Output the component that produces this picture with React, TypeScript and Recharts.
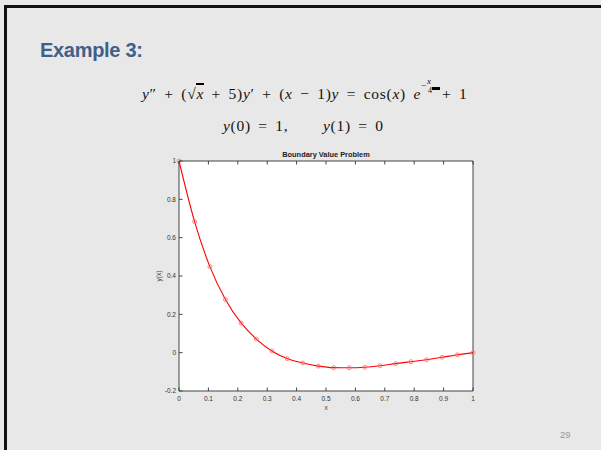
import { LineChart, Line, XAxis, YAxis, CartesianGrid } from 'recharts'

// ── data ────────────────────────────────────────────────────────────────────

const xs = [
  0, 0.053, 0.105, 0.158, 0.211, 0.263, 0.316, 0.368, 0.421, 0.474, 0.526,
  0.579, 0.632, 0.684, 0.737, 0.789, 0.842, 0.895, 0.947, 1,
]
const ys = [
  1, 0.684, 0.449, 0.277, 0.155, 0.071, 0.009, -0.031, -0.054, -0.07, -0.078,
  -0.079, -0.076, -0.068, -0.057, -0.047, -0.037, -0.024, -0.011, 0,
]
const xTicks = [0, 0.1, 0.2, 0.3, 0.4, 0.5, 0.6, 0.7, 0.8, 0.9, 1]
const yTicks = [-0.2, 0, 0.2, 0.4, 0.6, 0.8, 1]

const data = xs.map((x, i) => ({ x, y: ys[i] }))

const sans = '"Liberation Sans", Arial, sans-serif'
const serif = '"Liberation Serif", "Times New Roman", serif'
const frame = '#444'
const tickFont = { fontSize: 6.5, fill: '#333', fontFamily: sans }

// MATLAB-style inward ticks
function BottomTick({ x, y, payload }: any) {
  return (
    <g>
      <line x1={x} y1={y} x2={x} y2={y - 3.5} stroke={frame} />
      <text x={x} y={y + 9.5} textAnchor="middle" {...tickFont}>
        {String(payload.value)}
      </text>
    </g>
  )
}

function TopTick({ x, y }: any) {
  return <line x1={x} y1={y} x2={x} y2={y + 3.5} stroke={frame} />
}

function LeftTick({ x, y, payload }: any) {
  return (
    <g>
      <line x1={x} y1={y} x2={x + 3.5} y2={y} stroke={frame} />
      <text x={x - 3} y={y + 2.3} textAnchor="end" {...tickFont}>
        {String(payload.value)}
      </text>
    </g>
  )
}

function RightTick({ x, y }: any) {
  return <line x1={x} y1={y} x2={x - 3.5} y2={y} stroke={frame} />
}

function Equations() {
  const base = {
    position: 'absolute' as const,
    fontFamily: serif,
    fontSize: 15.5,
    lineHeight: 1,
    letterSpacing: 0.7,
    wordSpacing: 3,
    whiteSpace: 'nowrap' as const,
    color: '#111',
  }
  return (
    <>
      <div style={{ ...base, left: 142, top: 84 }}>
        <i>y</i>″ + (√
        <span style={{ borderTop: '2px solid #000' }}>
          <i>x</i>
        </span>{' '}
        + 5)<i>y</i>′ + (<i>x</i> − 1)<i>y</i> = cos(<i>x</i>) <i>e</i>
        <span
          style={{
            display: 'inline-block',
            position: 'relative',
            width: 21,
            height: 15,
          }}
        >
          <span style={{ position: 'absolute', left: 0, top: -3.2, fontSize: 10 }}>
            −
          </span>
          <i style={{ position: 'absolute', left: 6, top: -7.5, fontSize: 9 }}>
            x
          </i>
          <span style={{ position: 'absolute', left: 7, top: 3.3, fontSize: 8 }}>
            4
          </span>
          <span
            style={{
              position: 'absolute',
              left: 11,
              top: 2.6,
              width: 8,
              height: 3,
              background: '#000',
            }}
          />
        </span>
        + 1
      </div>
      <div style={{ ...base, left: 223, top: 117.5 }}>
        <i>y</i>(0) = 1,
      </div>
      <div style={{ ...base, left: 323, top: 117.5 }}>
        <i>y</i>(1) = 0
      </div>
    </>
  )
}

export default function App() {
  return (
    <div
      style={{
        position: 'absolute',
        left: 0,
        top: 0,
        width: 601,
        height: 450,
        background: '#e8e8e8',
        overflow: 'hidden',
        fontFamily: sans,
      }}
    >
      <div style={{ position: 'absolute', left: 4, top: 5, right: 0, height: 3, background: '#111' }} />
      <div style={{ position: 'absolute', left: 4, top: 5, width: 3, bottom: 0, background: '#111' }} />

      <div
        style={{
          position: 'absolute',
          left: 40,
          top: 40,
          fontSize: 20,
          lineHeight: 1,
          fontWeight: 'bold',
          color: '#3f6089',
          letterSpacing: -0.3,
        }}
      >
        Example 3:
      </div>

      <Equations />

      <div style={{ position: 'absolute', left: 0, top: 0 }}>
        <LineChart
          width={601}
          height={450}
          data={data}
          margin={{ top: 141, right: 108, bottom: 39, left: 159 }}
        >
          <CartesianGrid
            xAxisId="b"
            yAxisId="l"
            horizontal={false}
            vertical={false}
            fill="#ffffff"
          />
          <XAxis
            xAxisId="b"
            dataKey="x"
            type="number"
            domain={[0, 1]}
            ticks={xTicks}
            interval={0}
            height={20}
            tickSize={0}
            tickMargin={0}
            tickLine={false}
            axisLine={{ stroke: frame }}
            tick={<BottomTick />}
          />
          <XAxis
            xAxisId="t"
            orientation="top"
            dataKey="x"
            type="number"
            domain={[0, 1]}
            ticks={xTicks}
            interval={0}
            height={20}
            tickSize={0}
            tickMargin={0}
            tickLine={false}
            axisLine={{ stroke: frame }}
            tick={<TopTick />}
          />
          <YAxis
            yAxisId="l"
            type="number"
            domain={[-0.2, 1]}
            ticks={yTicks}
            interval={0}
            width={20}
            tickSize={0}
            tickMargin={0}
            tickLine={false}
            axisLine={{ stroke: frame }}
            tick={<LeftTick />}
          />
          <YAxis
            yAxisId="r"
            orientation="right"
            type="number"
            domain={[-0.2, 1]}
            ticks={yTicks}
            interval={0}
            width={20}
            tickSize={0}
            tickMargin={0}
            tickLine={false}
            axisLine={{ stroke: frame }}
            tick={<RightTick />}
          />
          <Line
            xAxisId="b"
            yAxisId="l"
            dataKey="y"
            type="monotoneX"
            stroke="#ff0000"
            strokeWidth={1.1}
            dot={{ r: 2, stroke: '#ff6a6a', strokeWidth: 0.8, fill: 'none' }}
            isAnimationActive={false}
          />
        </LineChart>
      </div>

      <div
        style={{
          position: 'absolute',
          left: 326,
          top: 151,
          transform: 'translateX(-50%)',
          fontSize: 7.4,
          lineHeight: 1,
          fontWeight: 'bold',
          color: '#222',
          whiteSpace: 'nowrap',
        }}
      >
        Boundary Value Problem
      </div>
      <div
        style={{
          position: 'absolute',
          left: 326,
          top: 405,
          transform: 'translateX(-50%)',
          fontSize: 6.5,
          lineHeight: 1,
          color: '#444',
        }}
      >
        x
      </div>
      <div
        style={{
          position: 'absolute',
          left: 159,
          top: 276,
          transform: 'translate(-50%, -50%) rotate(-90deg)',
          fontSize: 6.5,
          lineHeight: 1,
          color: '#444',
          whiteSpace: 'nowrap',
        }}
      >
        y(x)
      </div>
      <div
        style={{
          position: 'absolute',
          left: 560,
          top: 430,
          fontSize: 9.5,
          lineHeight: 1,
          color: '#999',
        }}
      >
        29
      </div>
    </div>
  )
}
